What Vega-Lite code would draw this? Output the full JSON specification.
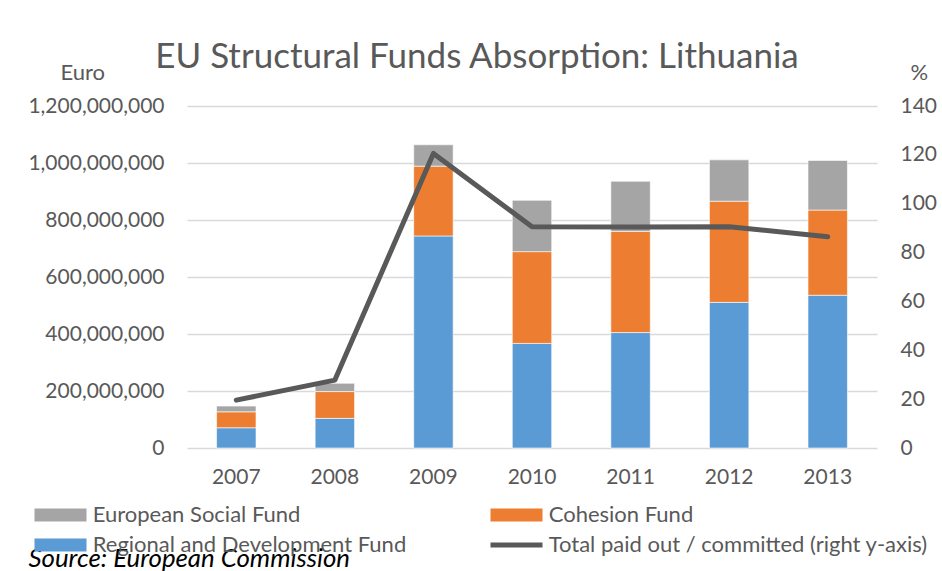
{
  "$schema": "https://vega.github.io/schema/vega-lite/v6.json",
  "width": 690,
  "height": 342,
  "autosize": {"type": "none"},
  "padding": {"left": 187, "top": 106, "right": 65, "bottom": 123},
  "title": {
    "text": "EU Structural Funds Absorption: Lithuania",
    "font": "Lato",
    "fontSize": 35,
    "fontWeight": "normal",
    "color": "#595959",
    "anchor": "middle",
    "frame": "group",
    "dx": -55,
    "dy": 24,
    "offset": 10
  },
  "datasets": {
    "funds": [
      {"year": "2007", "fund": "Regional and Development Fund", "value": 71000000},
      {"year": "2007", "fund": "Cohesion Fund", "value": 56000000},
      {"year": "2007", "fund": "European Social Fund", "value": 20000000},
      {"year": "2008", "fund": "Regional and Development Fund", "value": 104000000},
      {"year": "2008", "fund": "Cohesion Fund", "value": 94000000},
      {"year": "2008", "fund": "European Social Fund", "value": 29000000},
      {"year": "2009", "fund": "Regional and Development Fund", "value": 744000000},
      {"year": "2009", "fund": "Cohesion Fund", "value": 245000000},
      {"year": "2009", "fund": "European Social Fund", "value": 75000000},
      {"year": "2010", "fund": "Regional and Development Fund", "value": 367000000},
      {"year": "2010", "fund": "Cohesion Fund", "value": 322000000},
      {"year": "2010", "fund": "European Social Fund", "value": 180000000},
      {"year": "2011", "fund": "Regional and Development Fund", "value": 405000000},
      {"year": "2011", "fund": "Cohesion Fund", "value": 355000000},
      {"year": "2011", "fund": "European Social Fund", "value": 176000000},
      {"year": "2012", "fund": "Regional and Development Fund", "value": 511000000},
      {"year": "2012", "fund": "Cohesion Fund", "value": 355000000},
      {"year": "2012", "fund": "European Social Fund", "value": 145000000},
      {"year": "2013", "fund": "Regional and Development Fund", "value": 536000000},
      {"year": "2013", "fund": "Cohesion Fund", "value": 299000000},
      {"year": "2013", "fund": "European Social Fund", "value": 174000000}
    ],
    "pct": [
      {"year": "2007", "pct": 19.6},
      {"year": "2008", "pct": 27.8},
      {"year": "2009", "pct": 120.6},
      {"year": "2010", "pct": 90.6},
      {"year": "2011", "pct": 90.5},
      {"year": "2012", "pct": 90.6},
      {"year": "2013", "pct": 86.5}
    ]
  },
  "layer": [
    {
      "data": {"name": "funds"},
      "transform": [
        {"calculate": "indexof(['Regional and Development Fund', 'Cohesion Fund', 'European Social Fund'], datum.fund)", "as": "stackOrder"}
      ],
      "mark": {"type": "bar", "stroke": "#ffffff", "strokeWidth": 0.6},
      "encoding": {
        "x": {
          "field": "year",
          "type": "ordinal",
          "scale": {"paddingInner": 0.6, "paddingOuter": 0.3},
          "axis": {
            "labelAngle": 0,
            "ticks": false,
            "domain": false,
            "labelFont": "Lato",
            "labelFontSize": 21,
            "labelColor": "#595959",
            "labelPadding": 18,
            "title": "Source: European Commission",
            "titleFont": "Lato",
            "titleFontStyle": "italic",
            "titleFontWeight": "normal",
            "titleFontSize": 25.8,
            "titleColor": "#000000",
            "titleAnchor": "start",
            "titleAlign": "left",
            "titleBaseline": "alphabetic",
            "titleX": -159,
            "titleY": 118
          }
        },
        "y": {
          "field": "value",
          "type": "quantitative",
          "stack": "zero",
          "scale": {"domain": [0, 1200000000]},
          "axis": {
            "values": [0, 200000000, 400000000, 600000000, 800000000, 1000000000, 1200000000],
            "format": ",.0f",
            "ticks": false,
            "domain": false,
            "grid": true,
            "gridColor": "#d9d9d9",
            "gridWidth": 1.3,
            "labelFont": "Lato",
            "labelFontSize": 21,
            "labelColor": "#595959",
            "labelPadding": 23,
            "title": "Euro",
            "titleAngle": 0,
            "titleFont": "Lato",
            "titleFontSize": 22,
            "titleFontWeight": "normal",
            "titleColor": "#595959",
            "titleAlign": "left",
            "titleBaseline": "alphabetic",
            "titleX": -127,
            "titleY": -27
          }
        },
        "order": {"field": "stackOrder", "type": "quantitative", "sort": "ascending"},
        "color": {
          "field": "fund",
          "type": "nominal",
          "scale": {
            "domain": ["European Social Fund", "Cohesion Fund", "Regional and Development Fund", "Total paid out / committed (right y-axis)"],
            "range": ["#a5a5a5", "#ed7d31", "#5b9bd5", "#595959"]
          },
          "legend": {
            "orient": "none",
            "legendX": -137.5,
            "legendY": 398,
            "direction": "horizontal",
            "columns": 2,
            "columnPadding": 84,
            "rowPadding": 8,
            "padding": 0,
            "title": null,
            "symbolType": {"expr": "datum.value === 'Total paid out / committed (right y-axis)' ? 'M-4,-0.38H4V0.38H-4Z' : 'M-4,-1H4V1H-4Z'"},
            "symbolSize": 169,
            "symbolStrokeWidth": 0,
            "symbolOpacity": 1,
            "labelOffset": 21.2,
            "labelFont": "Lato",
            "labelFontSize": 22,
            "labelColor": "#595959",
            "labelLimit": 500
          }
        }
      }
    },
    {
      "data": {"name": "pct"},
      "mark": {"type": "line", "color": "#595959", "strokeWidth": 5, "strokeCap": "round", "strokeJoin": "round"},
      "encoding": {
        "x": {"field": "year", "type": "ordinal"},
        "y": {
          "field": "pct",
          "type": "quantitative",
          "scale": {"domain": [0, 140]},
          "axis": {
            "orient": "right",
            "values": [0, 20, 40, 60, 80, 100, 120, 140],
            "ticks": false,
            "domain": false,
            "grid": false,
            "labelFont": "Lato",
            "labelFontSize": 21,
            "labelColor": "#595959",
            "labelPadding": 23,
            "title": "%",
            "titleAngle": 0,
            "titleFont": "Lato",
            "titleFontSize": 22,
            "titleFontWeight": "normal",
            "titleColor": "#595959",
            "titleAlign": "left",
            "titleBaseline": "alphabetic",
            "titleX": 33,
            "titleY": -27
          }
        }
      }
    }
  ],
  "resolve": {"scale": {"y": "independent"}},
  "config": {"view": {"stroke": null}, "font": "Lato"}
}
